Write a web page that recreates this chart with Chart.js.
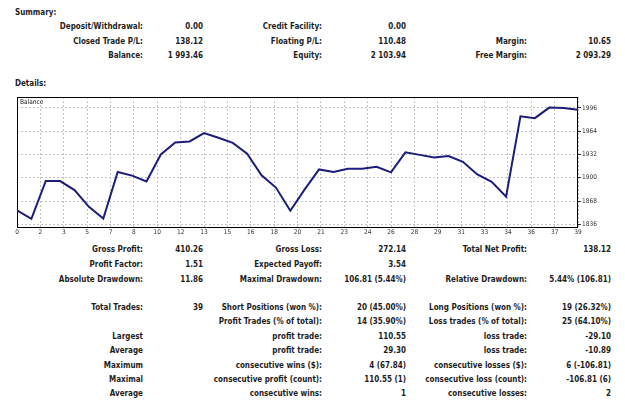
<!DOCTYPE html>
<html>
<head>
<meta charset="utf-8">
<script src="https://cdn.jsdelivr.net/npm/chart.js@4.4.1/dist/chart.umd.min.js"></script>
<style>
  html, body { margin: 0; padding: 0; background: #fff; }
  #page { position: relative; width: 625px; height: 401px; overflow: hidden;
          font-family: "DejaVu Sans Condensed", "DejaVu Sans", sans-serif; font-stretch: condensed;
          font-size: 8px; font-weight: bold; color: #1e1e1e; }
  .t { position: absolute; white-space: nowrap; line-height: 10px; }
  #chartBox { position: absolute; left: 0; top: 90px; width: 625px; height: 150px; }
</style>
</head>
<body>
<div id="page">
  <div id="chartBox"><canvas id="chart_balance"></canvas></div>
</div>
<script>
// balance after each closed trade
var tradeNumbers = [0, 1, 2, 3, 4, 5, 6, 7, 8, 9, 10, 11, 12, 13, 14, 15, 16, 17, 18, 19,
                    20, 21, 22, 23, 24, 25, 26, 27, 28, 29, 30, 31, 32, 33, 34, 35, 36, 37, 38, 39];
var balance = [1855.34, 1843.48, 1895.7, 1895.5, 1883, 1860, 1843.9, 1908, 1903, 1895,
               1932, 1948.5, 1950, 1961.5, 1955, 1948, 1933, 1903.5, 1886.5, 1854.7,
               1884, 1911.5, 1908, 1912.5, 1912.5, 1915, 1907.5, 1935, 1931.5, 1928,
               1930, 1922, 1904.5, 1894.5, 1874, 1984.55, 1982, 1996.5, 1996, 1993.46];
var xTickLabels = ['0', '2', '3', '5', '7', '8', '10', '12', '13', '15', '16', '18', '20',
                   '21', '23', '24', '26', '28', '29', '31', '33', '34', '36', '37', '39'];
var yTickValues = [1836, 1868, 1900, 1932, 1964, 1996];

// report text
var colRight = [143, 203, 322, 406, 527, 611];
var headings = [['Summary:', 12.7], ['Details:', 84.3]];
var rows = [
  [26.7, ['Deposit/Withdrawal:', '0.00', 'Credit Facility:', '0.00', '', '']],
  [41.7, ['Closed Trade P/L:', '138.12', 'Floating P/L:', '110.48', 'Margin:', '10.65']],
  [56, ['Balance:', '1 993.46', 'Equity:', '2 103.94', 'Free Margin:', '2 093.29']],
  [250, ['Gross Profit:', '410.26', 'Gross Loss:', '272.14', 'Total Net Profit:', '138.12']],
  [265, ['Profit Factor:', '1.51', 'Expected Payoff:', '3.54', '', '']],
  [279.5, ['Absolute Drawdown:', '11.86', 'Maximal Drawdown:', '106.81 (5.44%)', 'Relative Drawdown:', '5.44% (106.81)']],
  [307.7, ['Total Trades:', '39', 'Short Positions (won %):', '20 (45.00%)', 'Long Positions (won %):', '19 (26.32%)']],
  [322, ['', '', 'Profit Trades (% of total):', '14 (35.90%)', 'Loss trades (% of total):', '25 (64.10%)']],
  [336.7, ['Largest', '', 'profit trade:', '110.55', 'loss trade:', '-29.10']],
  [350.7, ['Average', '', 'profit trade:', '29.30', 'loss trade:', '-10.89']],
  [365.7, ['Maximum', '', 'consecutive wins ($):', '4 (67.84)', 'consecutive losses ($):', '6 (-106.81)']],
  [380, ['Maximal', '', 'consecutive profit (count):', '110.55 (1)', 'consecutive loss (count):', '-106.81 (6)']],
  [394.3, ['Average', '', 'consecutive wins:', '1', 'consecutive losses:', '2']]
];

var page = document.getElementById('page');
function addText(text, x, cy, right) {
  var d = document.createElement('div');
  d.className = 't';
  d.textContent = text;
  d.style.top = (cy - 5) + 'px';
  if (right) d.style.right = (625 - x) + 'px'; else d.style.left = x + 'px';
  page.appendChild(d);
}
headings.forEach(function (h) { addText(h[0], 15, h[1], false); });
rows.forEach(function (r) {
  r[1].forEach(function (txt, c) { if (txt) addText(txt, colRight[c], r[0], true); });
});

var chartFont = { family: '"DejaVu Sans Condensed", "DejaVu Sans", sans-serif', size: 6.5 };

var chart_balance = new Chart(document.getElementById('chart_balance'), {
    type: 'line',
    data: {
        labels: tradeNumbers,
        datasets: [{
            label: 'Balance',
            data: balance,
            borderColor: '#1c1c7c',
            borderWidth: 2,
            pointRadius: 0,
            tension: 0,
            fill: false
        }]
    },
    options: {
        animation: false,
        responsive: true,
        maintainAspectRatio: false,
        layout: { padding: { left: 17, top: 7, right: 0, bottom: 0 } },
        plugins: {
            legend: { display: false },
            tooltip: { enabled: false }
        },
        scales: {
            x: {
                type: 'linear',
                min: 0,
                max: 39,
                offset: false,
                grid: { color: '#c4c4c4', drawTicks: false },
                border: { display: false, dash: [2, 2] },
                afterBuildTicks: function (scale) {
                    scale.ticks = xTickLabels.map(function (t, k) { return { value: k * 39 / 24 }; });
                },
                afterFit: function (scale) { scale.height = 13; },
                ticks: {
                    autoSkip: false,
                    maxRotation: 0,
                    padding: 1,
                    color: '#333',
                    font: chartFont,
                    callback: function (value, index) { return xTickLabels[index]; }
                }
            },
            y: {
                type: 'linear',
                position: 'right',
                min: 1832.3,
                max: 2011.1,
                grid: { color: '#c4c4c4', tickLength: 3, tickColor: '#333' },
                border: { display: false, dash: [2, 2] },
                afterBuildTicks: function (scale) {
                    scale.ticks = yTickValues.map(function (v) { return { value: v }; });
                },
                afterFit: function (scale) { scale.width = 47; },
                ticks: {
                    padding: 1,
                    color: '#333',
                    font: chartFont,
                    callback: function (value) { return value; }
                }
            }
        }
    },
    plugins: [{
        id: 'frame',
        beforeDatasetsDraw: function (chart) {
            var a = chart.chartArea, ctx = chart.ctx;
            ctx.save();
            ctx.strokeStyle = '#000';
            ctx.lineWidth = 1;
            ctx.strokeRect(Math.round(a.left) + 0.5, Math.round(a.top) + 0.5,
                           Math.round(a.right - a.left) - 1, Math.round(a.bottom - a.top));
            ctx.fillStyle = '#222';
            ctx.font = '6.5px "DejaVu Sans Condensed", "DejaVu Sans", sans-serif';
            ctx.textBaseline = 'middle';
            ctx.fillText('Balance', a.left + 3, a.top + 5.5);
            ctx.restore();
        }
    }]
});
</script>
</body>
</html>
